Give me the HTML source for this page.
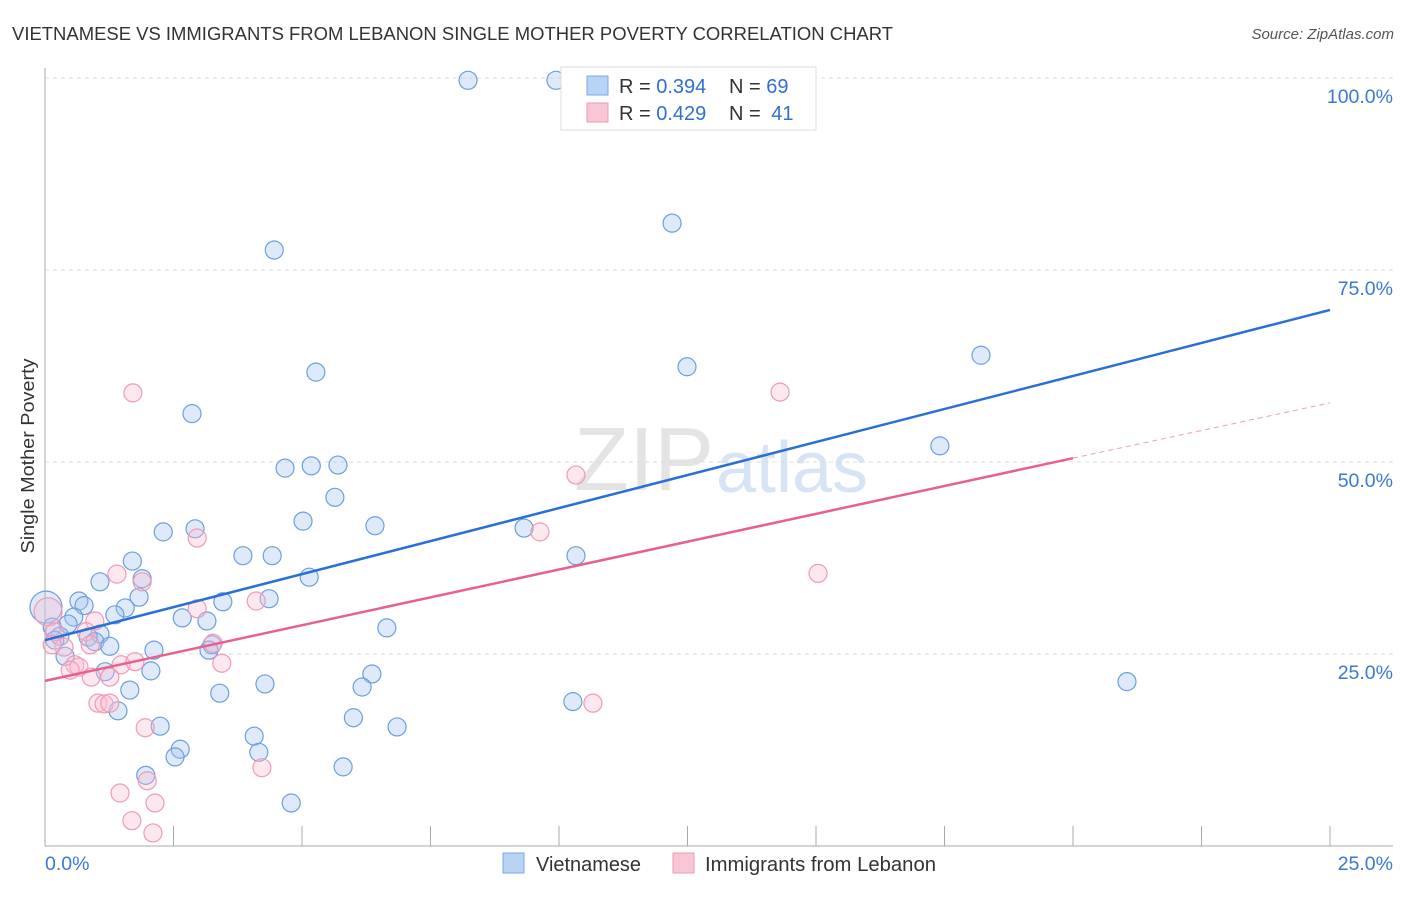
<!DOCTYPE html>
<html><head><meta charset="utf-8"><style>
body{margin:0;background:#fff;font-family:"Liberation Sans",sans-serif;}
svg text{font-family:"Liberation Sans",sans-serif;}
</style></head><body>
<svg id="chart" width="1406" height="892" xmlns="http://www.w3.org/2000/svg">
<text x="12" y="40" font-size="18" fill="#333" textLength="881" lengthAdjust="spacingAndGlyphs">VIETNAMESE VS IMMIGRANTS FROM LEBANON SINGLE MOTHER POVERTY CORRELATION CHART</text>
<text x="1394" y="39" font-size="15" font-style="italic" fill="#555" text-anchor="end">Source: ZipAtlas.com</text>
<text x="34" y="456" font-size="18" fill="#333" text-anchor="middle" textLength="195" lengthAdjust="spacingAndGlyphs" transform="rotate(-90 34 456)">Single Mother Poverty</text>
<text x="714" y="490" font-size="90" fill="#e4e4e4" text-anchor="end" font-family="Liberation Serif">ZIP</text>
<text x="716" y="492" font-size="72" fill="#d6e4f5">atlas</text>
<g id="grid"></g>
<g id="pts"></g>
<g id="lines"></g>
<g>
<rect x="561" y="67" width="255" height="63" fill="#fff" stroke="#ddd"/>
<rect x="587" y="76" width="21" height="19" fill="#b8d4f5" stroke="#7aa8e6"/>
<rect x="587" y="103" width="21" height="19" fill="#f9c6d5" stroke="#ef9ab5"/>
<text x="619" y="93" font-size="20" fill="#333">R = <tspan fill="#2f6fd0">0.394</tspan></text>
<text x="729" y="93" font-size="20" fill="#333">N = <tspan fill="#2f6fd0">69</tspan></text>
<text x="619" y="120" font-size="20" fill="#333">R = <tspan fill="#2f6fd0">0.429</tspan></text>
<text x="729" y="120" font-size="20" fill="#333">N = <tspan fill="#2f6fd0" dx="5">41</tspan></text>
</g>
<text x="45" y="870" font-size="19.5" fill="#3a78d4">0.0%</text>
<text x="1393" y="870" font-size="19.5" fill="#3a78d4" text-anchor="end">25.0%</text>
<rect x="503" y="853" width="21" height="20" fill="#b8d4f5" stroke="#7aa8e6"/>
<text x="536" y="871" font-size="20" fill="#333" textLength="105" lengthAdjust="spacingAndGlyphs">Vietnamese</text>
<rect x="673" y="853" width="21" height="20" fill="#f9c6d5" stroke="#ef9ab5"/>
<text x="705" y="871" font-size="20" fill="#333" textLength="231" lengthAdjust="spacingAndGlyphs">Immigrants from Lebanon</text>
</svg>
<script>
const yTicks=[25,50,75,100];
const yTickLabels=["25.0%","50.0%","75.0%","100.0%"];
const xTicks=[2.5,5,7.5,10,12.5,15,17.5,20,22.5,25];
const blueX=[8.23,9.94,12.2,4.46,12.49,18.21,5.27,2.86,17.41,4.67,5.18,5.7,5.64,5.02,6.42,9.32,2.3,2.92,3.85,4.42,10.33,1.7,1.89,5.14,1.07,1.83,3.46,4.36,0.66,0.76,0.02,1.56,1.36,0.56,2.67,3.15,0.45,0.14,6.65,1.07,0.29,0.84,0.97,1.26,0.19,3.25,2.12,3.19,0.39,1.17,2.06,6.36,4.28,6.17,1.65,3.4,21.05,10.27,1.42,6.0,2.24,6.85,4.07,2.63,4.16,2.53,5.8,1.96,4.79];
const blueY=[99.7,99.7,81.1,77.6,62.4,63.9,61.7,56.3,52.1,49.2,49.5,49.6,45.4,42.3,41.7,41.4,40.9,41.3,37.8,37.8,37.8,37.1,34.8,35.0,34.4,32.4,31.8,32.2,31.9,31.3,31.1,31.0,30.1,29.8,29.7,29.3,28.9,28.5,28.4,27.6,27.3,27.2,26.6,26.0,26.8,26.2,25.5,25.5,24.7,22.7,22.8,22.4,21.1,20.7,20.3,19.9,21.4,18.8,17.6,16.7,15.6,15.5,14.3,12.6,12.2,11.6,10.3,9.2,5.6];
const pinkX=[1.71,14.3,10.33,9.63,2.96,1.4,1.89,15.04,4.11,2.96,0.97,0.06,0.8,0.19,3.27,0.88,0.37,0.14,0.58,0.66,0.49,1.48,1.75,3.44,0.9,1.26,1.03,1.15,1.26,10.66,1.95,4.22,1.99,1.46,2.14,1.69,2.1];
const pinkY=[59.0,59.1,48.3,40.9,40.1,35.4,34.4,35.5,31.9,30.9,29.3,30.5,27.9,27.9,26.4,26.2,25.9,26.2,23.6,23.3,22.9,23.6,24.0,23.8,22.0,22.0,18.6,18.5,18.6,18.6,15.4,10.2,8.5,6.9,5.6,3.3,1.7];
const blueTrend=[26.8,69.8];
const pinkTrend=[21.5,50.5,57.7];
const NS="http://www.w3.org/2000/svg";
const sx=v=>45+v*51.4, sy=v=>846-v*7.68;
function mk(t,a,p){const e=document.createElementNS(NS,t);for(const k in a)e.setAttribute(k,a[k]);p.appendChild(e);return e;}
const grid=document.getElementById('grid');
yTicks.forEach((t,i)=>{
 const l=mk('line',{x1:45,x2:1393,y1:sy(t),y2:sy(t),stroke:'#ddd','stroke-dasharray':'4 4'},grid);
 
 
 const tx=mk('text',{x:1393,y:sy(t)+25,'font-size':19.5,fill:'#3a78d4','text-anchor':'end'},grid);tx.textContent=yTickLabels[i];
 
 
});
mk('line',{x1:45,x2:45,y1:68,y2:846,stroke:'#aaa'},grid);
mk('line',{x1:45,x2:1393,y1:846,y2:846,stroke:'#aaa'},grid);
xTicks.forEach(t=>{const l=mk('line',{x1:sx(t),x2:sx(t),y1:826,y2:846,stroke:'#aaa'},grid);
 
 });
const pts=document.getElementById('pts');
blueX.forEach((x,i)=>{const c=mk('circle',{cx:sx(x),cy:sy(blueY[i]),r:(x<0.1?16:9),fill:'rgba(160,196,240,0.35)',stroke:'#6a9fe0','stroke-width':1.2},pts);
 
 });
pinkX.forEach((x,i)=>{const c=mk('circle',{cx:sx(x),cy:sy(pinkY[i]),r:(x<0.1?14:9),fill:'rgba(248,190,208,0.35)',stroke:'#f09ab4','stroke-width':1.2},pts);
 
 });
const lines=document.getElementById('lines');
const bl=mk('line',{x1:sx(0),y1:sy(blueTrend[0]),x2:sx(25),y2:sy(blueTrend[1]),stroke:'#2a6fd6','stroke-width':2.5},lines);


const pl=mk('line',{x1:sx(0),y1:sy(pinkTrend[0]),x2:sx(20),y2:sy(pinkTrend[1]),stroke:'#e8608e','stroke-width':2.5},lines);


const pd=mk('line',{x1:sx(20),y1:sy(pinkTrend[1]),x2:sx(25),y2:sy(pinkTrend[2]),stroke:'#e8a0b8','stroke-width':1,'stroke-dasharray':'5 4'},lines);


</script>
</body></html>
